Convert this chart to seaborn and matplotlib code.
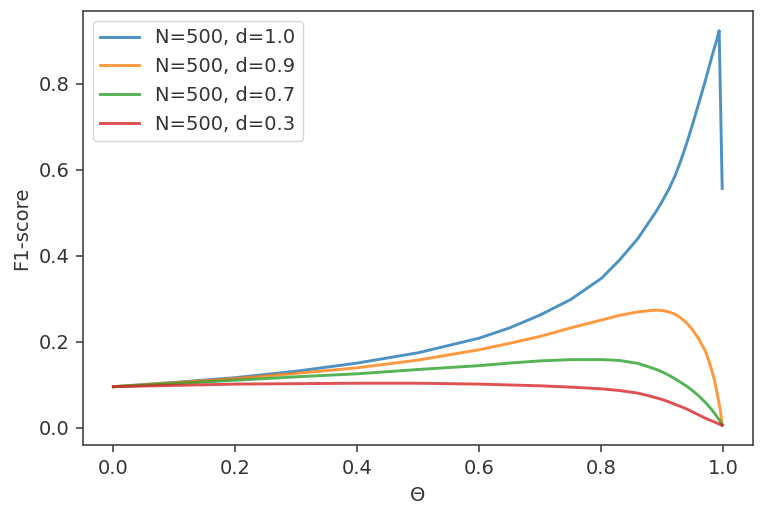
import pandas as pd
import matplotlib
matplotlib.use('Agg')
import matplotlib.pyplot as plt
import seaborn as sns

# Umbrales (eje x) compartidos por las cuatro curvas
theta = [0.0, 0.1, 0.2, 0.3, 0.4, 0.5, 0.6, 0.65, 0.7, 0.75, 0.8, 0.83,
         0.86, 0.88, 0.89, 0.9, 0.91, 0.92, 0.93, 0.94, 0.95, 0.96, 0.97,
         0.975, 0.98, 0.985, 0.99, 0.993, 0.995, 0.998]

f1_d10 = [0.095, 0.105, 0.116, 0.131, 0.150, 0.174, 0.208, 0.232, 0.262, 0.298,
          0.347, 0.390, 0.440, 0.482, 0.503, 0.527, 0.553, 0.583, 0.620, 0.662,
          0.708, 0.756, 0.805, 0.831, 0.857, 0.882, 0.906, 0.923, 0.777, 0.556]
f1_d09 = [0.095, 0.104, 0.114, 0.126, 0.139, 0.157, 0.181, 0.196, 0.212, 0.232,
          0.250, 0.261, 0.269, 0.272, 0.273, 0.272, 0.269, 0.264, 0.255, 0.243,
          0.226, 0.205, 0.179, 0.160, 0.138, 0.112, 0.078, 0.055, 0.040, 0.007]
f1_d07 = [0.095, 0.102, 0.110, 0.118, 0.125, 0.135, 0.144, 0.150, 0.155, 0.158,
          0.158, 0.156, 0.149, 0.140, 0.135, 0.129, 0.122, 0.114, 0.105, 0.096,
          0.085, 0.073, 0.059, 0.051, 0.043, 0.034, 0.024, 0.018, 0.013, 0.006]
f1_d03 = [0.095, 0.098, 0.101, 0.102, 0.103, 0.103, 0.101, 0.099, 0.097, 0.094,
          0.090, 0.086, 0.080, 0.073, 0.069, 0.065, 0.060, 0.054, 0.049, 0.043,
          0.036, 0.029, 0.022, 0.019, 0.016, 0.013, 0.010, 0.008, 0.007, 0.005]

etiquetas = ['N=500, d=1.0', 'N=500, d=0.9', 'N=500, d=0.7', 'N=500, d=0.3']
series = [f1_d10, f1_d09, f1_d07, f1_d03]

filas = []
for etiqueta, valores in zip(etiquetas, series):
    for t, v in zip(theta, valores):
        filas.append({'theta': t, 'f1': v, 'curva': etiqueta})
df = pd.DataFrame(filas)

escala = 1.4
gris = '#333333'
plt.rcParams.update({
    'font.size': 10 * escala,
    'text.color': gris,
    'axes.labelcolor': gris,
    'axes.edgecolor': '#3a3a3a',
    'xtick.color': '#3a3a3a',
    'ytick.color': '#3a3a3a',
    'xtick.labelcolor': gris,
    'ytick.labelcolor': gris,
    'axes.linewidth': 0.8 * escala,
    'xtick.major.size': 3.5 * escala,
    'ytick.major.size': 3.5 * escala,
    'xtick.major.width': 0.8 * escala,
    'ytick.major.width': 0.8 * escala,
    'xtick.major.pad': 3.5 * escala,
    'ytick.major.pad': 3.5 * escala,
    'axes.labelpad': 4 * escala,
})

fig = plt.figure(figsize=(7.68, 5.2), dpi=100)
ax = fig.add_axes([0.108, 0.144, 0.872, 0.835])

colores = sns.color_palette('tab10', 4)
sns.lineplot(data=df, x='theta', y='f1', hue='curva', hue_order=etiquetas,
             palette=colores, alpha=0.8, linewidth=1.5 * escala, ax=ax, sort=False)

ax.set_xlabel('Θ')
ax.set_ylabel('F1-score')
ax.legend(loc='upper left')

fig.savefig('out.png', dpi=100)
